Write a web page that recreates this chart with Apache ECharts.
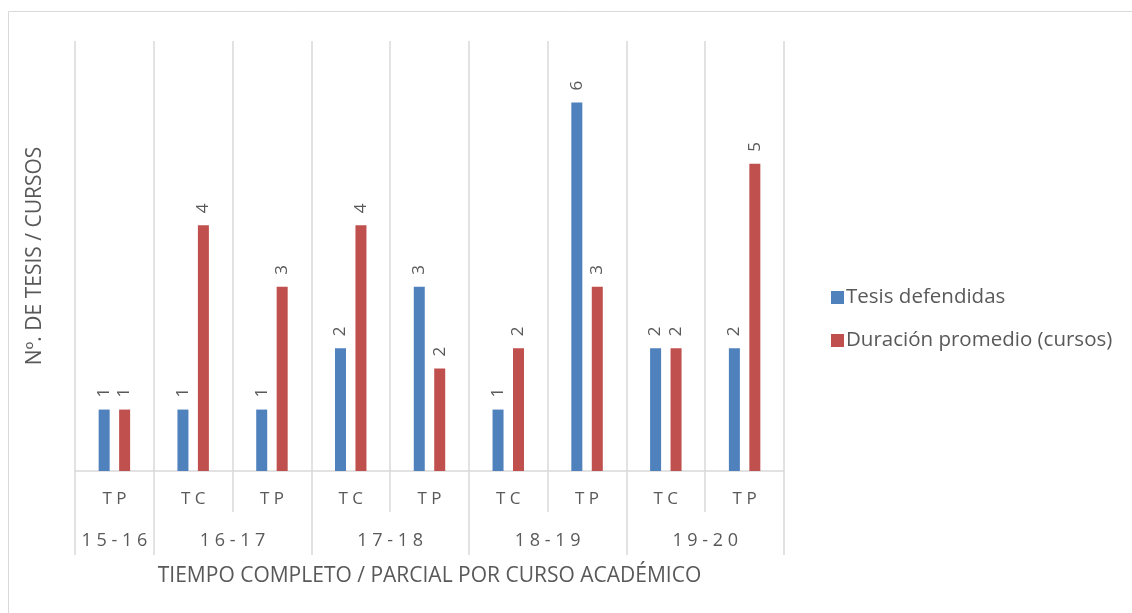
<!DOCTYPE html>
<html>
<head>
<meta charset="utf-8">
<script src="https://cdn.jsdelivr.net/npm/echarts@6/dist/echarts.min.js"></script>
<style>
html,body{margin:0;padding:0;background:#fff;}
#c{width:1132px;height:613px;}
</style>
</head>
<body>
<div id="c"></div>
<script>
// ---- data ----
var categories = ['TP','TC','TP','TC','TP','TC','TP','TC','TP'];
var groups = ['15-16','16-17','17-18','18-19','19-20'];
var groupSizes = [1,2,2,2,2];
var seriesNames = ['Tesis defendidas','Duración promedio (cursos)'];
var tesis = [1,1,1,2,3,1,6,2,2];
var duracion = [1,4,3,4,1.67,2,3,2,5];
var yMax = 7;

// derived group positions
var groupBounds = [0], groupCenters = [];
(function(){
  var acc = 0;
  groupSizes.forEach(function(s){ groupCenters.push(acc + s/2); acc += s; groupBounds.push(acc); });
})();

var FONT = 'Open Sans';
var TXT = '#595959';
var GRID = '#D9D9D9';

function spaced(s){ return String(s).split('').join(' '); }

var labelStyle = {
  show: true, position: 'top', rotate: 90, align: 'left', verticalAlign: 'middle',
  distance: 12, color: TXT, fontSize: 17, fontFamily: FONT,
  formatter: function(p){ return Math.round(p.value); }
};

var chart = echarts.init(document.getElementById('c'), null, {renderer:'canvas'});
chart.setOption({
  animation: false,
  backgroundColor: '#fff',
  color: ['#4F81BD','#C0504D'],
  graphic: [{
    type: 'rect', silent: true,
    shape: {x: 8.5, y: 11.5, width: 1300, height: 800},
    style: {fill: 'none', stroke: GRID, lineWidth: 1}
  }],
  grid: {left: 75, right: 348, top: 41, bottom: 142, containLabel: false},
  legend: {
    orient: 'vertical', left: 826, top: 282, itemWidth: 13, itemHeight: 13,
    itemGap: 22, icon: 'rect',
    textStyle: {color: TXT, fontSize: 20.5, fontFamily: FONT, padding: [0,0,0,-3]},
    data: seriesNames
  },
  xAxis: [{
    type: 'category', data: categories, boundaryGap: true,
    axisLine: {show: true, lineStyle: {color: GRID, width: 1.5}},
    axisTick: {show: true, length: 41, lineStyle: {color: GRID, width: 1.5}},
    splitLine: {show: true, lineStyle: {color: GRID, width: 1.5}},
    axisLabel: {color: TXT, fontSize: 17, fontFamily: FONT, margin: 20, formatter: spaced},
    name: 'TIEMPO COMPLETO / PARCIAL POR CURSO ACADÉMICO',
    nameLocation: 'middle', nameGap: 95,
    nameTextStyle: {color: TXT, fontSize: 21, fontFamily: FONT}
  }, {
    type: 'value', min: 0, max: categories.length, position: 'bottom',
    axisLine: {show: false},
    splitLine: {show: false},
    axisTick: {show: true, customValues: groupBounds, length: 84, lineStyle: {color: GRID, width: 1.5}},
    axisLabel: {
      show: true, customValues: groupCenters, margin: 61,
      color: TXT, fontSize: 18, fontFamily: FONT,
      formatter: function(v){ var i = groupCenters.indexOf(v); return i >= 0 ? spaced(groups[i]) : ''; }
    }
  }],
  yAxis: {
    type: 'value', min: 0, max: yMax, interval: 1,
    axisLine: {show: false}, axisTick: {show: false}, axisLabel: {show: false},
    splitLine: {show: false},
    name: 'Nº. DE TESIS / CURSOS', nameLocation: 'middle', nameGap: 29,
    nameTextStyle: {color: TXT, fontSize: 21, fontFamily: FONT}
  },
  series: [{
    name: seriesNames[0], type: 'bar', data: tesis, barWidth: 11, barGap: '86%',
    label: labelStyle
  }, {
    name: seriesNames[1], type: 'bar', data: duracion, barWidth: 11, barGap: '86%',
    label: labelStyle
  }]
});
</script>
</body>
</html>
